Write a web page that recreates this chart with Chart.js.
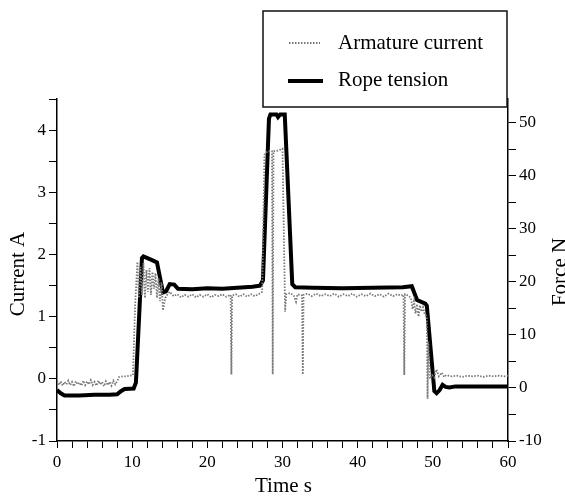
<!DOCTYPE html>
<html>
<head>
<meta charset="utf-8">
<script src="https://cdn.jsdelivr.net/npm/chart.js@4/dist/chart.umd.min.js"></script>
<style>
  body { margin: 0; background: #fff; }
  #wrap { width: 565px; height: 496px; }
</style>
</head>
<body>
<div id="wrap"><canvas id="c" width="565" height="496"></canvas></div>
<script>
// armature current, time s / current A
let currentT = [0, 0.25, 0.5, 0.75, 1, 1.25, 1.5, 1.75, 2, 2.25, 2.5, 2.75, 3, 3.25, 3.5, 3.75, 4, 4.25, 4.5, 4.75,
    5, 5.25, 5.5, 5.75, 6, 6.25, 6.5, 6.75, 7, 7.25, 7.5, 7.75, 8, 8.25, 8.75, 9.25, 9.75, 10.1,
    10.4, 10.7, 10.9, 11.1, 11.3, 11.5, 11.7, 11.9, 12.1, 12.3, 12.5, 12.7, 12.9, 13.1, 13.3, 13.5, 13.7, 13.9, 14.1,
    14.4, 14.7, 15, 15.5, 16, 16.5, 17, 17.5, 18, 18.5, 19, 19.5, 20, 20.5, 21, 21.5, 22, 22.5,
    23.1, 23.2, 23.3, 23.8, 24.3, 24.8, 25.3, 25.8, 26.3, 26.8, 27.3, 27.6, 28, 28.6, 28.7, 28.8, 29.4, 30,
    30.35, 30.5, 31, 31.5, 31.8, 32, 32.6, 32.7, 32.8, 33.3, 33.9, 34.5, 35.1, 35.7, 36.3, 36.9, 37.5, 38.1,
    38.7, 39.3, 39.9, 40.5, 41.1, 41.7, 42.3, 42.9, 43.5, 44.1, 44.7, 45.3, 45.8, 46.1, 46.2, 46.3, 46.7,
    47.1, 47.3, 47.5, 47.7, 47.9, 48.1, 48.3, 48.5, 48.7, 48.9, 49.2, 49.3, 49.4, 49.6, 49.9, 50.2, 50.5,
    50.8, 51.2, 51.5, 51.8, 52.5, 53.2, 53.9, 54.6, 55.3, 56, 56.7, 57.4, 58.1, 58.8, 59.5, 60];
let currentA = [-0.03, -0.1, -0.04, -0.11, -0.05, -0.09, -0.03, -0.1, -0.05, -0.12, -0.04, -0.09, -0.06, -0.11, -0.03, -0.1, -0.04, -0.09, -0.02, -0.1,
    -0.05, -0.11, -0.03, -0.09, -0.05, -0.12, -0.04, -0.1, -0.05, -0.11, -0.03, -0.09, -0.04, 0.03, 0.04, 0.04, 0.05, 0.06,
    1.2, 1.88, 1.3, 1.8, 1.35, 1.86, 1.3, 1.75, 1.4, 1.78, 1.35, 1.72, 1.45, 1.7, 1.3, 1.62, 1.25, 1.55, 1.1,
    1.3, 1.36, 1.4, 1.33, 1.36, 1.31, 1.35, 1.32, 1.36, 1.31, 1.35, 1.32, 1.36, 1.31, 1.35, 1.33, 1.36, 1.32,
    1.35, 0.07, 1.34, 1.36, 1.32, 1.36, 1.32, 1.36, 1.33, 1.36, 1.4, 3.6, 3.66, 3.66, 0.07, 3.66, 3.67, 3.7,
    1.08, 1.36, 1.38, 1.34, 1.24, 1.36, 1.34, 0.07, 1.35, 1.37, 1.33, 1.37, 1.33, 1.36, 1.33, 1.37, 1.32, 1.36,
    1.33, 1.37, 1.32, 1.36, 1.33, 1.37, 1.33, 1.36, 1.32, 1.37, 1.33, 1.36, 1.34, 1.35, 0.06, 1.36, 1.34,
    1.3, 1.12, 1.25, 1.05, 1.2, 1.0, 1.18, 1.08, 1.15, 1.05, 1.0, -0.32, 0.6, 0.0, 0.06, 0.02, 0.15,
    0.04, 0.1, 0.03, 0.06, 0.04, 0.05, 0.03, 0.05, 0.04, 0.05, 0.03, 0.05, 0.04, 0.05, 0.04, 0.05];

// rope tension, time s / force N
let tensionT = [0, 0.5, 1, 3, 5, 7, 8, 8.5, 9, 10.2, 10.5, 11.3, 11.5, 12.5, 13.3, 14.1, 14.5, 15, 15.6, 16.1,
    18, 20, 22, 24, 26, 27, 27.4, 28.2, 28.4, 29.2, 29.4, 29.7, 30.3, 31.3, 31.7, 34, 38, 42, 46, 47.2,
    47.9, 49, 49.2, 50.2, 50.5, 50.9, 51.3, 51.7, 52.2, 53, 60];
let tensionN = [-0.4, -1.0, -1.4, -1.4, -1.3, -1.3, -1.2, -0.6, -0.2, -0.1, 1.0, 24.5, 24.8, 24.2, 23.7, 18.0, 18.2, 19.6, 19.5, 18.7,
    18.6, 18.8, 18.7, 18.9, 19.1, 19.3, 20.3, 50.8, 51.6, 51.6, 51.1, 51.6, 51.6, 19.6, 19.0, 18.9, 18.8, 18.9, 19.0, 19.2,
    16.6, 15.9, 15.5, -0.6, -1.0, -0.4, 0.6, 0.2, 0.1, 0.3, 0.3];

let seriesNames = ['Armature current', 'Rope tension'];
let axisTitles = ['Time s', 'Current A', 'Force N'];

let serif = '"Liberation Serif", "DejaVu Serif", serif';

let currentPts = currentT.map((t, i) => ({ x: t, y: currentA[i] }));
let tensionPts = tensionT.map((t, i) => ({ x: t, y: tensionN[i] }));

let tickFont = { family: serif, size: 17 };

// legend box + axis titles drawn by hand
let extras = {
    id: 'extras',
    afterDraw(chart) {
        let ctx = chart.ctx;
        let area = chart.chartArea;
        ctx.save();
        ctx.fillStyle = '#000';
        ctx.font = '21px ' + serif;

        // x title
        ctx.textAlign = 'center';
        ctx.textBaseline = 'alphabetic';
        ctx.fillText(axisTitles[0], (area.left + area.right) / 2 + 1, 492);

        // left title
        ctx.save();
        ctx.translate(24, 274);
        ctx.rotate(-Math.PI / 2);
        ctx.fillText(axisTitles[1], 0, 0);
        ctx.restore();

        // right title
        ctx.save();
        ctx.translate(566, 272);
        ctx.rotate(-Math.PI / 2);
        ctx.fillText(axisTitles[2], 0, 0);
        ctx.restore();

        // legend
        ctx.fillStyle = '#fff';
        ctx.fillRect(263, 11, 244, 96);
        ctx.strokeStyle = '#111';
        ctx.lineWidth = 1.5;
        ctx.strokeRect(263, 11, 244, 96);

        ctx.strokeStyle = '#7a7a7a';
        ctx.lineWidth = 1.8;
        ctx.setLineDash([1.5, 1.5]);
        ctx.beginPath();
        ctx.moveTo(289, 43);
        ctx.lineTo(320, 43);
        ctx.stroke();
        ctx.setLineDash([]);

        ctx.strokeStyle = '#000';
        ctx.lineWidth = 4;
        ctx.beginPath();
        ctx.moveTo(288, 81);
        ctx.lineTo(323, 81);
        ctx.stroke();

        ctx.fillStyle = '#000';
        ctx.textAlign = 'left';
        ctx.textBaseline = 'middle';
        ctx.fillText(seriesNames[0], 338, 43);
        ctx.fillText(seriesNames[1], 338, 80);
        ctx.restore();
    }
};

new Chart(document.getElementById('c'), {
    type: 'line',
    data: {
        datasets: [{
            label: seriesNames[0],
            data: currentPts,
            yAxisID: 'yA',
            borderColor: '#7a7a7a',
            borderWidth: 1.8,
            borderDash: [1.5, 1.5],
            pointRadius: 0,
            tension: 0
        }, {
            label: seriesNames[1],
            data: tensionPts,
            yAxisID: 'yF',
            borderColor: '#000',
            borderWidth: 4,
            pointRadius: 0,
            tension: 0
        }]
    },
    options: {
        responsive: false,
        animation: false,
        layout: { padding: { top: 99 } },
        plugins: { legend: { display: false }, tooltip: { enabled: false } },
        scales: {
            x: {
                type: 'linear',
                min: 0,
                max: 60,
                afterFit: s => { s.height = 55; },
                border: { color: '#000', width: 1.5 },
                grid: { drawOnChartArea: false, color: '#000', tickLength: 7 },
                ticks: {
                    stepSize: 2,
                    includeBounds: false,
                    maxRotation: 0,
                    autoSkip: false,
                    color: '#000',
                    font: tickFont,
                    padding: 4,
                    callback: v => v % 10 === 0 ? v : ''
                }
            },
            yA: {
                position: 'left',
                min: -1,
                max: 4.5,
                afterFit: s => { s.width = 57; },
                border: { color: '#000', width: 1.5 },
                grid: { drawOnChartArea: false, color: '#000', tickLength: 8 },
                ticks: {
                    stepSize: 0.5,
                    includeBounds: false,
                    autoSkip: false,
                    color: '#000',
                    font: tickFont,
                    padding: 3,
                    callback: v => Number.isInteger(v) ? v : ''
                }
            },
            yF: {
                position: 'right',
                min: -10,
                max: 54.5,
                afterFit: s => { s.width = 57; },
                border: { color: '#000', width: 1.5 },
                grid: { drawOnChartArea: false, color: '#000', tickLength: 8 },
                ticks: {
                    stepSize: 5,
                    includeBounds: false,
                    autoSkip: false,
                    color: '#000',
                    font: tickFont,
                    padding: 3,
                    callback: v => v % 10 === 0 ? v : ''
                }
            }
        }
    },
    plugins: [extras]
});
</script>
</body>
</html>
